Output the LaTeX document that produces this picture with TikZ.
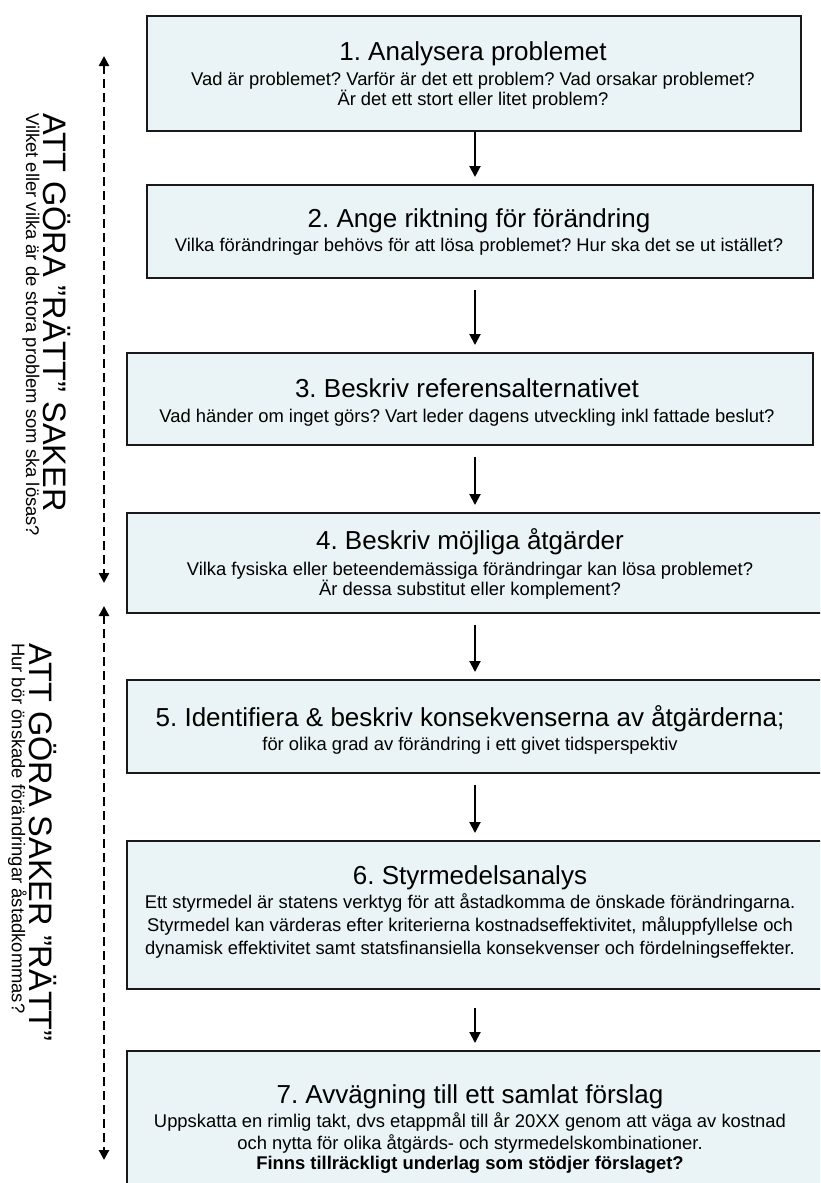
\documentclass[tikz,border=0pt]{standalone}
\usepackage{fontspec}
\setmainfont{Liberation Sans}
\usetikzlibrary{arrows.meta,calc}
\frenchspacing
\definecolor{boxfill}{RGB}{234,243,245}
\definecolor{boxline}{RGB}{25,25,25}
\newcommand{\titlef}{\fontsize{26}{30}\selectfont}
\newcommand{\subf}{\fontsize{18.4}{21}\selectfont}
\newcommand{\bigf}{\fontsize{32.5}{36}\selectfont}
\begin{document}
\begin{tikzpicture}[x=1pt,y=-1pt,
  box/.style={draw=boxline, line width=1.8pt, fill=boxfill, rectangle, inner sep=0pt, anchor=north west},
  ttl/.style={anchor=base, font=\titlef, inner sep=0pt},
  subl/.style={anchor=base, font=\subf, inner sep=0pt},
  subb/.style={anchor=base, font=\subf\bfseries, inner sep=0pt},
  flowarr/.style={line width=2pt, -{Triangle[length=11pt,width=11pt]}},
  dasharr/.style={line width=2.4pt, dash pattern=on 9pt off 5pt, {Triangle[length=10pt,width=10pt]}-{Triangle[length=10pt,width=10pt]}},
  side/.style={rotate=-90, anchor=base west, inner sep=0pt}]
\useasboundingbox (0,0) rectangle (820,1183);
\clip (0,0) rectangle (820,1183);
\fill[white] (0,0) rectangle (820,1183);

% boxes
\node[box, minimum width=654pt, minimum height=115pt] (b1) at (146,15) {};
\node[box, minimum width=666pt, minimum height=93pt] (b2) at (146,184) {};
\node[box, minimum width=686pt, minimum height=92pt] (b3) at (126,352) {};
\node[box, minimum width=714pt, minimum height=100pt] (b4) at (126,512) {};
\node[box, minimum width=714pt, minimum height=93pt] (b5) at (126,679) {};
\node[box, minimum width=714pt, minimum height=148pt] (b6) at (126,840) {};
\node[box, minimum width=714pt, minimum height=150pt] (b7) at (126,1050) {};

% texts
\node[ttl] (t1) at (473,60) {1. Analysera problemet};
\node[subl] (s1a) at (473,85) {Vad är problemet? Varför är det ett problem? Vad orsakar problemet?};
\node[subl] (s1b) at (473,105) {Är det ett stort eller litet problem?};

\node[ttl] (t2) at (479,227) {2. Ange riktning för förändring};
\node[subl] (s2a) at (479,251) {Vilka förändringar behövs för att lösa problemet? Hur ska det se ut istället?};

\node[ttl] (t3) at (467,397) {3. Beskriv referensalternativet};
\node[subl] (s3a) at (467,422) {Vad händer om inget görs? Vart leder dagens utveckling inkl fattade beslut?};

\node[ttl] (t4) at (470,549) {4. Beskriv möjliga åtgärder};
\node[subl] (s4a) at (470,575) {Vilka fysiska eller beteendemässiga förändringar kan lösa problemet?};
\node[subl] (s4b) at (470,595) {Är dessa substitut eller komplement?};

\node[ttl] (t5) at (470,726) {5. Identifiera \& beskriv konsekvenserna av åtgärderna;};
\node[subl] (s5a) at (470,750) {för olika grad av förändring i ett givet tidsperspektiv};

\node[ttl] (t6) at (470,884) {6. Styrmedelsanalys};
\node[subl] (s6a) at (470,908) {Ett styrmedel är statens verktyg för att åstadkomma de önskade förändringarna.};
\node[subl] (s6b) at (470,931) {Styrmedel kan värderas efter kriterierna kostnadseffektivitet, måluppfyllelse och};
\node[subl] (s6c) at (470,954) {dynamisk effektivitet samt statsfinansiella konsekvenser och fördelningseffekter.};

\node[ttl] (t7) at (470,1103) {7. Avvägning till ett samlat förslag};
\node[subl] (s7a) at (470,1127) {Uppskatta en rimlig takt, dvs etappmål till år 20XX genom att väga av kostnad};
\node[subl] (s7b) at (470,1149) {och nytta för olika åtgärds- och styrmedelskombinationer.};
\node[subb] (s7c) at (470,1169) {Finns tillräckligt underlag som stödjer förslaget?};

% flow arrows
\coordinate (ax) at (475,0);
\draw[flowarr] (b1.south -| ax) -- ($(b2.north -| ax)+(0,-7)$);
\draw[flowarr] ($(b2.south -| ax)+(0,11)$) -- ($(b3.north -| ax)+(0,-7)$);
\draw[flowarr] ($(b3.south -| ax)+(0,11)$) -- ($(b4.north -| ax)+(0,-7)$);
\draw[flowarr] ($(b4.south -| ax)+(0,11)$) -- ($(b5.north -| ax)+(0,-7)$);
\draw[flowarr] ($(b5.south -| ax)+(0,11)$) -- ($(b6.north -| ax)+(0,-7)$);
\draw[flowarr] ($(b6.south -| ax)+(0,18)$) -- ($(b7.north -| ax)+(0,-7)$);

% side dashed arrows
\coordinate (d1t) at (104,56);
\coordinate (d1b) at (104,583);
\coordinate (d2t) at (104,606);
\coordinate (d2b) at (104,1160);
\draw[dasharr] (d1t) -- (d1b);
\draw[dasharr] (d2t) -- (d2b);

% side texts
\node[side, font=\bigf] (g1) at (43,113) {ATT GÖRA ”RÄTT” SAKER};
\node[side, font=\subf] (h1) at (26,113) {Vilket eller vilka är de stora problem som ska lösas?};
\node[side, font=\bigf] (g2) at (29,643) {ATT GÖRA SAKER ”RÄTT”};
\node[side, font=\subf] (h2) at (12,643) {Hur bör önskade förändringar åstadkommas?};
\end{tikzpicture}
\end{document}
